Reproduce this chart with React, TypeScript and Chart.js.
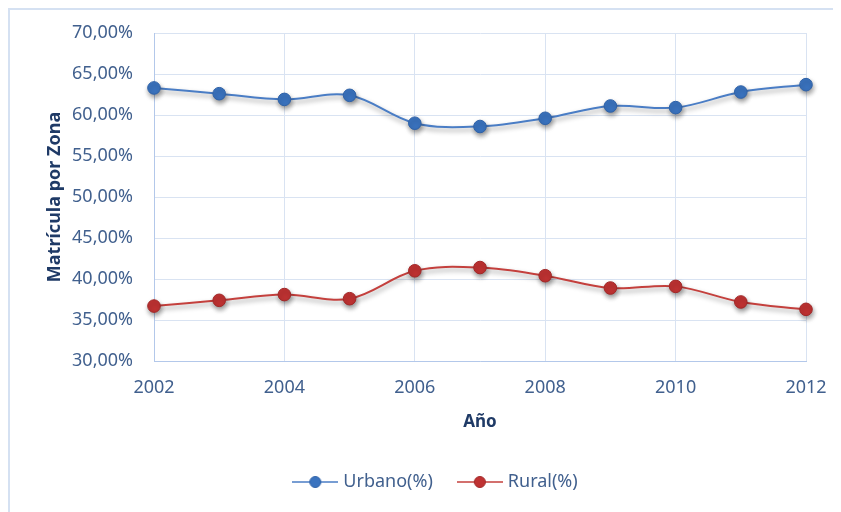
import React, { useEffect, useRef } from "react";
import { Chart, registerables } from "chart.js";

Chart.register(...registerables);

const years = [2002, 2003, 2004, 2005, 2006, 2007, 2008, 2009, 2010, 2011, 2012];
const urbano = [63.3, 62.6, 61.9, 62.4, 59.0, 58.6, 59.6, 61.1, 60.9, 62.8, 63.7];
const rural = [36.7, 37.4, 38.1, 37.6, 41.0, 41.4, 40.4, 38.9, 39.1, 37.2, 36.3];
const seriesLabels = ["Urbano(%)", "Rural(%)"];
const yTitle = "Matrícula por Zona";
const xTitle = "Año";
const yMin = 30;
const yMax = 70;
const yStep = 5;
const xMin = 2002;
const xMax = 2012;
const xStep = 2;

const FONT = "'Noto Sans', 'DejaVu Sans', sans-serif";
const tickColor = "#41608E";
const titleColor = "#1F3A66";
const gridColor = "#D9E3F2";
const axisColor = "#B3C8EA";
const blueLine = "#4A7DC5";
const bluePoint = "#3A73BF";
const blueBorder = "#2F62A8";
const redLine = "#C4403D";
const redPoint = "#BF3232";
const redBorder = "#A12828";

function makeIcon(line: string, fill: string, border: string): HTMLCanvasElement {
  const c = document.createElement("canvas");
  c.width = 46;
  c.height = 14;
  const ctx = c.getContext("2d")!;
  ctx.strokeStyle = line;
  ctx.lineWidth = 1.5;
  ctx.beginPath();
  ctx.moveTo(0, 7);
  ctx.lineTo(46, 7);
  ctx.stroke();
  ctx.beginPath();
  ctx.arc(23, 7, 5.5, 0, Math.PI * 2);
  ctx.fillStyle = fill;
  ctx.fill();
  ctx.strokeStyle = border;
  ctx.lineWidth = 1;
  ctx.stroke();
  return c;
}

const shadowPlugin = {
  id: "lineShadow",
  beforeDatasetsDraw(chart: any) {
    const ctx = chart.ctx;
    ctx.save();
    ctx.shadowColor = "rgba(0,0,0,0.4)";
    ctx.shadowBlur = 5;
    ctx.shadowOffsetX = 1;
    ctx.shadowOffsetY = 3;
  },
  afterDatasetsDraw(chart: any) {
    chart.ctx.restore();
  },
};

export default function App() {
  const ref = useRef<HTMLCanvasElement | null>(null);

  useEffect(() => {
    document.documentElement.style.overflow = "hidden";
    const canvas = ref.current;
    if (!canvas) return;
    const icons = [
      makeIcon(blueLine, bluePoint, blueBorder),
      makeIcon(redLine, redPoint, redBorder),
    ];
    const chart = new Chart(canvas, {
      type: "line",
      data: {
        datasets: [
          {
            label: seriesLabels[0],
            data: years.map((x, i) => ({ x, y: urbano[i] })),
            borderColor: blueLine,
            backgroundColor: bluePoint,
            borderWidth: 2,
            pointRadius: 6.3,
            pointBackgroundColor: bluePoint,
            pointBorderColor: blueBorder,
            pointBorderWidth: 1,
            tension: 0.35,
            clip: false as any,
          },
          {
            label: seriesLabels[1],
            data: years.map((x, i) => ({ x, y: rural[i] })),
            borderColor: redLine,
            backgroundColor: redPoint,
            borderWidth: 2,
            pointRadius: 6.3,
            pointBackgroundColor: redPoint,
            pointBorderColor: redBorder,
            pointBorderWidth: 1,
            tension: 0.35,
            clip: false as any,
          },
        ],
      },
      options: {
        responsive: false,
        animation: false,
        events: [],
        layout: { padding: { top: 23, left: 0, right: 0, bottom: 11 } },
        scales: {
          x: {
            type: "linear",
            min: xMin,
            max: xMax,
            position: "bottom",
            afterFit: (s: any) => {
              s.height = 84;
            },
            ticks: {
              stepSize: xStep,
              padding: 16,
              color: tickColor,
              font: { family: FONT, size: 18 },
              callback: (v: any) => String(v),
            },
            grid: { color: gridColor, drawTicks: false, lineWidth: 1 },
            border: { color: axisColor, width: 1 },
            title: {
              display: true,
              text: xTitle,
              color: titleColor,
              font: { family: FONT, size: 17, weight: "bold" },
              padding: { top: 0, bottom: 13 },
            },
          },
          y: {
            type: "linear",
            min: yMin,
            max: yMax,
            position: "left",
            afterFit: (s: any) => {
              s.width = 144;
            },
            ticks: {
              stepSize: yStep,
              padding: 0,
              color: tickColor,
              font: { family: FONT, size: 18 },
              callback: (v: any) => Number(v).toFixed(2).replace(".", ",") + "%",
            },
            grid: {
              color: gridColor,
              drawTicks: true,
              tickLength: 21,
              tickColor: "rgba(0,0,0,0)",
              lineWidth: 1,
            },
            border: { color: axisColor, width: 1 },
            title: {
              display: true,
              text: yTitle,
              color: titleColor,
              font: { family: FONT, size: 18, weight: "bold" },
              padding: { top: 34, bottom: 0 },
            },
          },
          y2: {
            type: "linear",
            position: "right",
            display: true,
            afterFit: (s: any) => {
              s.width = 58;
            },
            ticks: { display: false },
            grid: { display: false, drawTicks: false },
            border: { display: false },
            title: { display: false },
          },
        },
        plugins: {
          title: { display: false },
          tooltip: { enabled: false },
          legend: {
            display: true,
            position: "bottom",
            labels: {
              usePointStyle: true,
              pointStyleWidth: 38,
              padding: 28,
              color: tickColor,
              font: { family: FONT, size: 18 },
              generateLabels: (c: any) => {
                const items = (Chart.defaults as any).plugins.legend.labels.generateLabels(c);
                return items.map((it: any) => ({
                  ...it,
                  pointStyle: icons[it.datasetIndex],
                  fontColor: tickColor,
                }));
              },
            },
          },
        },
      } as any,
      plugins: [shadowPlugin],
    });
    return () => chart.destroy();
  }, []);

  return (
    <div
      style={{
        width: 833,
        height: 504,
        boxSizing: "border-box",
        borderTop: "2px solid #D5E1F2",
        borderLeft: "2px solid #D5E1F2",
        overflow: "hidden",
        position: "relative",
        background: "#ffffff",
      }}
    >
      <canvas
        ref={ref}
        width={854}
        height={502}
        style={{ display: "block", width: 854, height: 502 }}
      />
    </div>
  );
}
